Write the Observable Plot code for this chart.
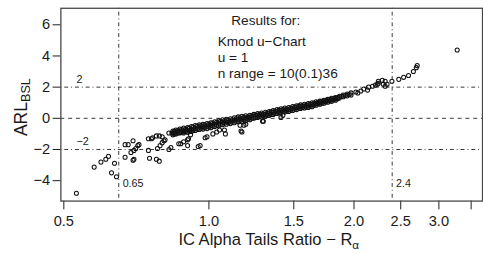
<!DOCTYPE html>
<html><head><meta charset="utf-8">
<script src="https://cdn.jsdelivr.net/npm/d3@7"></script>
<script src="https://cdn.jsdelivr.net/npm/@observablehq/plot@0.6"></script>
<style>html,body{margin:0;padding:0;overflow:hidden;background:#fff;} svg{display:block}</style>
</head><body><div id="chart"></div>
<script>
// IC alpha tails ratio (x) and ARL_BSL (y)
const ratio = [
  0.531,0.578,0.597,0.611,0.619,0.637,0.628,0.643,0.670,0.680,0.696,0.670,0.689,0.699,0.705,0.712,0.716,0.696,0.699,
  0.749,0.753,0.749,0.760,0.764,0.778,0.789,0.782,0.792,0.800,0.807,0.811,0.778,0.789,0.826,0.834,0.800,
  0.826,0.838,0.850,0.862,0.874,0.886,0.899,0.912,0.924,
  0.874,0.886,0.903,0.907,0.916,0.903,0.866,0.950,0.959,0.982,0.991,1.019,1.038,1.052,1.082,1.077,
  1.160,1.166,1.171,1.182,1.193,1.292,1.297,1.411,1.424,
  0.842,0.842,0.842, 0.854,0.854,0.854, 0.870,0.870,0.870, 0.886,0.886,0.886, 0.903,0.903,0.903,
  0.920,0.920,0.920, 0.937,0.937,0.937, 0.955,0.955,0.955, 0.972,0.972,0.972, 0.991,0.991,0.991,
  1.009,1.009,1.009, 1.028,1.028,1.028, 1.048,1.048,1.048, 1.067,1.067,1.067, 1.087,1.087,1.087,
  1.108,1.108,1.108, 1.129,1.129,1.129, 1.150,1.150,1.150, 1.171,1.171,1.171, 1.193,1.193,1.193,
  1.216,1.216,1.216, 1.239,1.239,1.239, 1.262,1.262,1.262, 1.286,1.286,1.286, 1.310,1.310,1.310,
  1.334,1.334,1.334, 1.359,1.359,1.359, 1.385,1.385,1.385, 1.411,1.411,1.411, 1.437,1.437,1.437,
  1.464,1.464,1.464, 1.492,1.492,1.492, 1.520,1.520,1.520, 1.549,1.549,1.549, 1.578,1.578,1.578,
  1.607,1.607,1.607, 1.637,1.637,1.637, 1.668,1.668,1.668, 1.700,1.700,1.700, 1.732,1.732,1.732,
  1.764,1.764,1.764, 1.797,1.797,1.797, 1.831,1.831,1.831, 1.865,1.865, 1.900,1.900, 1.936,1.936, 1.972,1.972,
  0.848,0.848, 0.862,0.862, 0.878,0.878, 0.894,0.894, 0.911,0.911, 0.928,0.928, 0.946,0.946, 0.963,0.963,
  0.981,0.981, 1.000,1.000, 1.018,1.018, 1.038,1.038, 1.057,1.057, 1.077,1.077, 1.097,1.097, 1.118,1.118,
  1.139,1.139, 1.160,1.160, 1.182,1.182, 1.204,1.204, 1.227,1.227, 1.250,1.250, 1.274,1.274, 1.298,1.298,
  1.322,1.322, 1.346,1.346, 1.372,1.372, 1.398,1.398, 1.424,1.424, 1.450,1.450, 1.478,1.478, 1.506,1.506,
  1.534,1.534, 1.563,1.563, 1.592,1.592, 1.622,1.622, 1.652,1.652, 1.684,1.684, 1.716,1.716, 1.748,1.748,
  1.780,1.780, 1.814,1.814, 1.848,1.848, 1.882, 1.918, 1.954,
  2.018,2.037,2.066,2.095,2.134,2.144,2.184,2.215,2.236,2.246,2.246,2.289,2.300,2.321,2.342,2.321,
  2.397,2.477,2.535,2.595,2.656,2.693,2.705,3.274
];
const arl = [
  -4.81,-3.13,-2.81,-2.63,-2.44,-2.88,-3.50,-3.75,-1.69,-1.69,-1.44,-2.50,-2.19,-2.06,-1.94,-1.75,-1.69,-2.69,-2.63,
  -2.06,-2.56,-1.31,-1.31,-1.25,-1.13,-1.13,-1.94,-1.75,-1.56,-1.44,-1.38,-2.63,-2.75,-2.00,-1.88,-1.19,
  -0.94,-0.94,-0.94,-0.88,-0.88,-0.88,-0.81,-0.81,-0.75,
  -1.63,-1.50,-1.38,-1.31,-1.06,-1.75,-1.63,-1.81,-1.75,-1.25,-1.19,-1.00,-0.88,-0.75,-1.00,-0.75,
  -0.44,-0.81,-0.88,-0.44,-0.38,-0.19,-0.19,0.06,0.19,
  -0.81,-0.94,-1.06, -0.75,-0.88,-1.00, -0.69,-0.81,-0.94, -0.63,-0.78,-0.94, -0.60,-0.75,-0.90,
  -0.53,-0.69,-0.85, -0.47,-0.63,-0.78, -0.41,-0.56,-0.72, -0.38,-0.53,-0.69, -0.34,-0.50,-0.66,
  -0.28,-0.44,-0.60, -0.22,-0.38,-0.53, -0.16,-0.31,-0.47, -0.10,-0.25,-0.41, -0.06,-0.22,-0.38,
  -0.03,-0.19,-0.34, 0.03,-0.13,-0.28, 0.09,-0.06,-0.22, 0.13,-0.03,-0.19, 0.16,0.00,-0.16,
  0.20,0.06,-0.09, 0.25,0.13,0.00, 0.31,0.19,0.06, 0.34,0.22,0.09, 0.38,0.25,0.13,
  0.44,0.31,0.19, 0.50,0.38,0.25, 0.56,0.44,0.31, 0.61,0.50,0.38, 0.66,0.53,0.41,
  0.69,0.56,0.44, 0.75,0.63,0.50, 0.81,0.69,0.56, 0.86,0.75,0.63, 0.90,0.78,0.66,
  0.94,0.81,0.69, 1.00,0.88,0.75, 1.06,0.94,0.84, 1.10,1.00,0.90, 1.16,1.06,0.97,
  1.22,1.13,1.03, 1.28,1.19,1.09, 1.34,1.25,1.16, 1.41,1.31, 1.50,1.38, 1.56,1.44, 1.63,1.50,
  -0.84,-1.00, -0.78,-0.94, -0.72,-0.88, -0.69,-0.84, -0.63,-0.81, -0.56,-0.75, -0.50,-0.69, -0.47,-0.63,
  -0.41,-0.59, -0.38,-0.56, -0.31,-0.50, -0.25,-0.44, -0.19,-0.38, -0.16,-0.31, -0.13,-0.28, -0.09,-0.25,
  -0.03,-0.19, 0.03,-0.13, 0.06,-0.09, 0.09,-0.06, 0.16,0.00, 0.22,0.06, 0.25,0.13, 0.28,0.16,
  0.34,0.19, 0.41,0.25, 0.47,0.31, 0.53,0.38, 0.56,0.44, 0.59,0.47, 0.66,0.53, 0.72,0.59,
  0.78,0.66, 0.81,0.69, 0.84,0.72, 0.91,0.78, 0.97,0.84, 1.03,0.94, 1.09,0.97, 1.16,1.06,
  1.22,1.13, 1.28,1.19, 1.34,1.25, 1.41, 1.47, 1.53,
  1.69,1.63,1.75,1.88,1.81,2.00,2.06,2.13,2.19,2.38,2.25,2.44,2.19,2.38,2.19,2.06,
  2.38,2.50,2.63,2.75,3.00,3.25,3.38,4.38
];
const xTicks = [0.5, 1, 1.5, 2, 2.5, 3, 3.5];
const xTickLabels = ["0.5", "1.0", "1.5", "2.0", "2.5", "3.0", ""];
const yTicks = [-4, -2, 0, 2, 4, 6];
const limitLines = [2, -2];
const centerLine = [0];
const ratioCuts = [0.65, 2.4];
const legendTitle = ["Results for:"];
const legendLines = ["Kmod u\u2212Chart", "u = 1", "n range = 10(0.1)36"];
const xTitle = ["IC Alpha Tails Ratio \u2212 R", "\u03b1"];
const yTitle = ["ARL", "BSL"];

const points = ratio.map((r, i) => ({r, a: arl[i]}));
const font = "'Liberation Sans', Arial, Helvetica, sans-serif";
const ink = "#1a1a1a";

const chart = Plot.plot({
  width: 496, height: 259,
  marginLeft: 62, marginRight: 1, marginTop: 8, marginBottom: 53,
  style: {fontFamily: font, fontSize: "15px", color: ink, background: "#fff"},
  x: {type: "log", domain: [0.493, 3.695], ticks: xTicks,
      tickFormat: d => xTickLabels[xTicks.indexOf(d)], tickSize: 9, tickPadding: 6, label: null},
  y: {domain: [-5.31, 7.06], ticks: yTicks, tickSize: 8, tickPadding: 3, label: null},
  marks: [
    Plot.ruleY(limitLines, {stroke: "#333", strokeDasharray: "1,3,4,3"}),
    Plot.ruleY(centerLine, {stroke: "#333", strokeDasharray: "4,4"}),
    Plot.ruleX(ratioCuts, {stroke: "#333", strokeDasharray: "1,3,4,3"}),
    Plot.text(limitLines, {y: d => d, text: d => d3.format("d")(d), frameAnchor: "left", dx: 16, dy: -8,
      fontSize: 11, fill: ink}),
    Plot.text(ratioCuts, {x: d => d, text: d => String(d), frameAnchor: "bottom", dx: 4, dy: -14,
      textAnchor: "start", fontSize: 11, fill: ink}),
    Plot.dot(points, {x: "r", y: "a", r: 2.1, stroke: "#111", strokeWidth: 1.05, fill: "none"}),
    Plot.text(legendTitle, {text: d => d, frameAnchor: "top-left", dx: 175, dy: 7, fontSize: 14, fill: ink}),
    Plot.text([legendLines.join("\n")], {text: d => d, frameAnchor: "top-left", dx: 161, dy: 27,
      lineHeight: 1.18, fontSize: 14, fill: ink}),
    Plot.frame({stroke: "#444", strokeWidth: 1.3})
  ]
});

const svg = d3.select(chart);
const xt = svg.append("text")
  .attr("x", 276).attr("y", 252).attr("text-anchor", "middle")
  .attr("font-family", font).attr("font-size", 17).attr("fill", ink);
xt.append("tspan").text(xTitle[0]);
xt.append("tspan").attr("dy", 4).attr("font-size", 12).text(xTitle[1]);

const yt = svg.append("text")
  .attr("transform", "translate(28,110) rotate(-90)").attr("text-anchor", "middle")
  .attr("font-family", font).attr("font-size", 18).attr("fill", ink);
yt.append("tspan").text(yTitle[0]);
yt.append("tspan").attr("dy", 3).attr("font-size", 13).text(yTitle[1]);

document.getElementById("chart").appendChild(chart);
</script>
</body></html>
